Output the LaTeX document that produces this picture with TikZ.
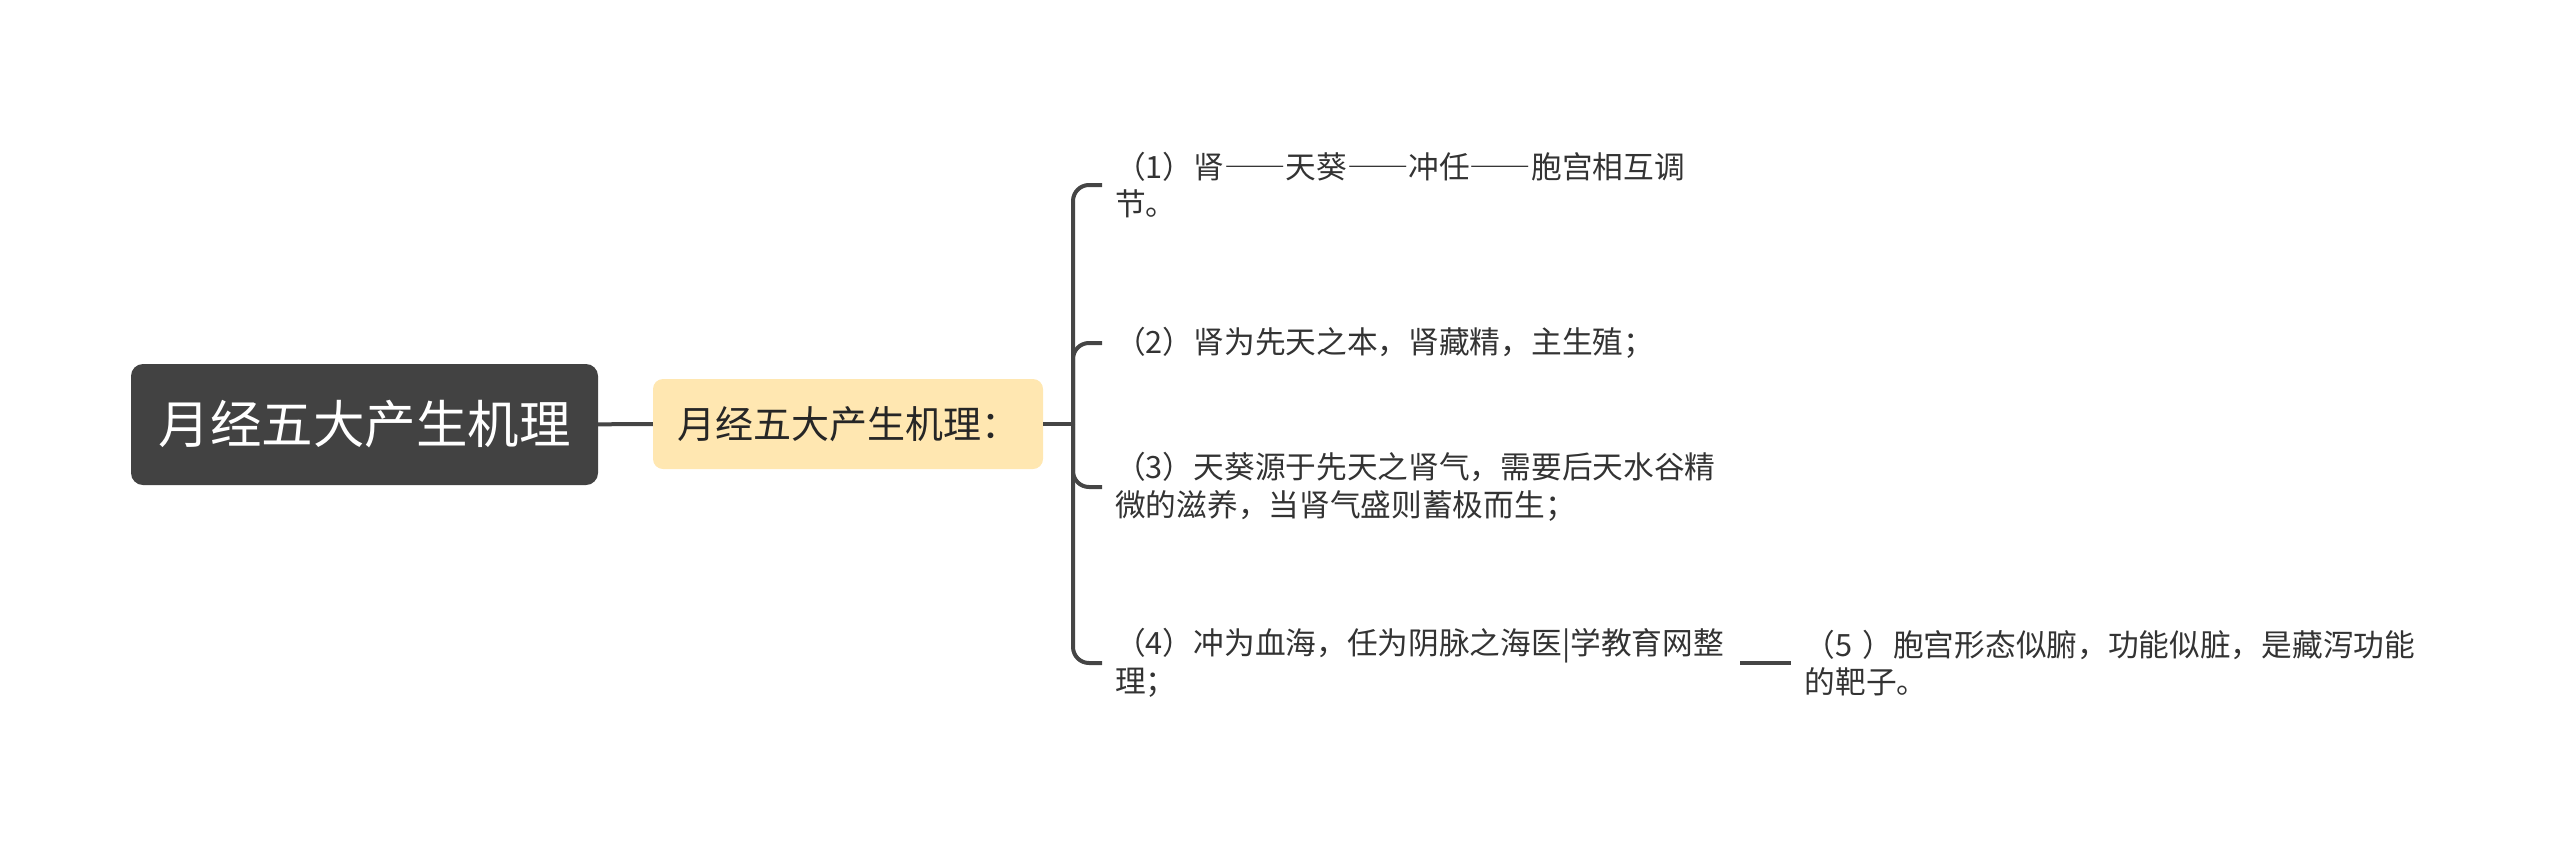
\documentclass[tikz,border=0pt]{standalone}
\usepackage{fontspec}
\setmainfont{Noto Sans CJK SC}
\usetikzlibrary{positioning}
\definecolor{rootgray}{HTML}{424242}
\definecolor{subyellow}{HTML}{FFE7B1}
\definecolor{linegray}{HTML}{454545}
\definecolor{txtgray}{HTML}{333333}
\newcommand{\fwdash}{{\addfontfeature{CharacterWidth=Full}——}}

\begin{document}
\begin{tikzpicture}[x=1pt, y=-1pt,
	rootbox/.style={fill=rootgray, text=white, rounded corners=12pt, minimum width=467pt, minimum height=121pt, inner sep=0pt, font=\fontsize{51.5}{60}\selectfont},
	subbox/.style={fill=subyellow, text=black!85, rounded corners=10pt, minimum width=390pt, minimum height=90pt, inner sep=0pt, font=\fontsize{38}{46}\selectfont},
	leaf/.style={anchor=west, align=left, text width=612pt, inner xsep=13pt, inner ysep=0pt, text=txtgray, font=\fontsize{30.7}{37.6}\selectfont},
	link/.style={draw=linegray, line width=4pt}]

	\useasboundingbox (0,0) rectangle (2560,849);

	\node[rootbox] (R) at (364.5,424.5) {月经五大产生机理};
	\node[subbox] (S) at (848,424) {月经五大产生机理：};
	\coordinate (J) at (1073,424);

	\node[leaf] (L1) at (1102,185) {（1）肾\fwdash 天葵\fwdash 冲任\fwdash 胞宫相互调\\节。};
	\node[leaf] (L2) at (1102,343) {（2）肾为先天之本，肾藏精，主生殖；};
	\node[leaf] (L3) at (1102,487) {（3）天葵源于先天之肾气，需要后天水谷精\\微的滋养，当肾气盛则蓄极而生；};
	\node[leaf] (L4) at (1102,663) {（4）冲为血海，任为阴脉之海医|学教育网整\\理；};
	\node[leaf, right=51pt of L4] (L5) {（5~）胞宫形态似腑，功能似脏，是藏泻功能\\的靶子。};

	\draw[link] (R) -- (S);
	\draw[link] (S) -- (J);
	\foreach \n in {L1,L2,L3,L4}
		\draw[link, rounded corners=16pt] (J) |- (\n.west);
	\draw[link] (L4) -- (L5);
\end{tikzpicture}
\end{document}
